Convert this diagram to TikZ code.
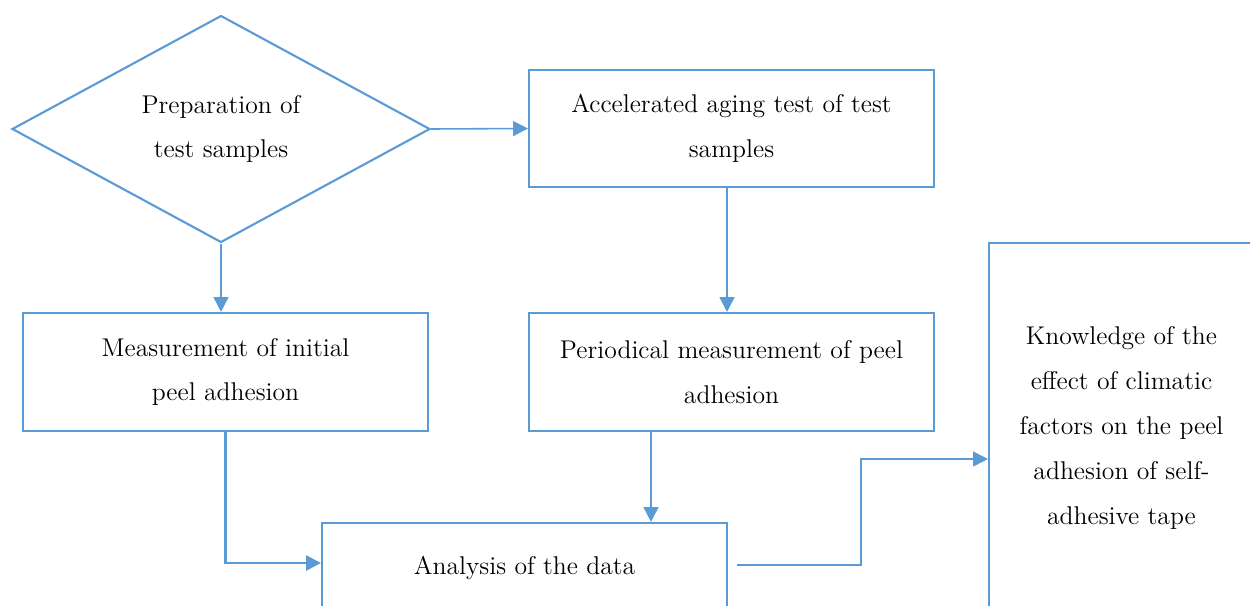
\documentclass[tikz,border=0pt]{standalone}
\usetikzlibrary{shapes.geometric,arrows.meta,calc}
\definecolor{flowblue}{HTML}{5B9BD5}
\begin{document}
\begin{tikzpicture}[x=0.02cm,y=-0.02cm,
  txt/.style={align=center,text=black,font=\fontsize{14.6}{25.5}\selectfont},
  box/.style={txt,draw=flowblue,line width=1.2pt,inner sep=0pt},
  dia/.style={txt,draw=flowblue,line width=1.2pt,diamond,inner sep=0pt,aspect=1.84,minimum width=8.36cm,minimum height=4.54cm},
  conn/.style={draw=flowblue,line width=0.9pt,-{Triangle[width=8.5pt,length=8.5pt]}},
  connthick/.style={conn,line width=1.6pt}]
\useasboundingbox (0,0) rectangle (1250,605);
\clip (0,0) rectangle (1250,605);
\node[dia] (prep) at (221,129) {Preparation of\\test samples};
\node[box,minimum width=8.1cm,minimum height=2.34cm] (acc) at (731.5,128.5) {Accelerated aging test of test\\samples};
\node[box,minimum width=8.1cm,minimum height=2.36cm] (meas) at (225.5,372) {Measurement of initial\\peel adhesion};
\node[box,minimum width=8.1cm,minimum height=2.36cm] (per) at (731.5,372) {Periodical measurement of peel\\adhesion};
\node[box,minimum width=8.1cm,minimum height=1.8cm] (ana) at (524.5,568) {Analysis of the data};
\node[box,minimum width=5.3cm,minimum height=7.4cm] (know) at (1121.5,428) {Knowledge of the\\effect of climatic\\factors on the peel\\adhesion of self-\\adhesive tape};
\draw[conn] (prep.east) -- (acc.west);
\draw[conn] (prep.south) -- (prep.south |- meas.north);
\draw[conn] ([xshift=-0.09cm]acc.south) -- ([xshift=-0.09cm]per.north);
\draw[connthick] (meas.south) |- ([yshift=0.1cm]ana.west);
\coordinate (pd) at (651,431);
\draw[conn] (pd) -- (pd |- ana.north);
\coordinate (dk) at (737,565);
\draw[conn] (dk) -- (861,565) -- (861,459) -- (know.west |- 861,459);
\end{tikzpicture}
\end{document}
